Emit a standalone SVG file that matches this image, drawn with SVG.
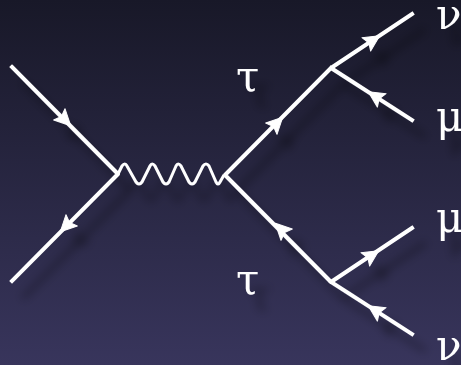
<svg xmlns="http://www.w3.org/2000/svg" width="461" height="365" viewBox="0 0 461 365">
<style>
.l{fill:none;stroke:#fff;stroke-width:4;stroke-linecap:square;stroke-linejoin:round}
.w{fill:none;stroke:#fff;stroke-width:3;stroke-linejoin:round}
.a{fill:#fff;stroke:#fff;stroke-width:1;stroke-linejoin:round}
.t{font-family:"DejaVu Serif",serif;font-size:42px;fill:#fff}
</style>
<defs>
<linearGradient id="bg" x1="0" y1="0" x2="0" y2="1"><stop offset="0" stop-color="#181828"/><stop offset="1" stop-color="#38355c"/></linearGradient>
<filter id="s" x="-20%" y="-20%" width="140%" height="140%"><feDropShadow dx="12" dy="16" stdDeviation="5" flood-color="#000" flood-opacity="0.38"/></filter>
<path id="h" d="M8 0L-8 -8L-5 0L-8 8Z"/>
</defs>
<rect width="461" height="365" fill="url(#bg)"/>
<g id="connectors" filter="url(#s)">
<path class="l" d="M12 67L118 174L12 281"/>
<path class="w" d="M118 174L122 166Q125 162 127 166L136 182Q139 186 142 182L150 166Q152 162 155 166L163 182Q166 186 169 182L176 166Q178 162 181 166L189 182Q192 186 195 182L203 166Q206 162 209 166L216 182Q218 186 220 182L224 175"/>
<path class="l" d="M412 14L331 68L225 175L331 282L412 228M412 120L331 68M331 282L412 334"/>
<use href="#h" class="a" transform="translate(65 120) rotate(45)"/>
<use href="#h" class="a" transform="translate(66 226) rotate(135)"/>
<use href="#h" class="a" transform="translate(277 123) rotate(-45)"/>
<use href="#h" class="a" transform="translate(281 229) rotate(-135)"/>
<use href="#h" class="a" transform="translate(373 40) rotate(-33)"/>
<use href="#h" class="a" transform="translate(375 96) rotate(-147)"/>
<use href="#h" class="a" transform="translate(372 255) rotate(-33)"/>
<use href="#h" class="a" transform="translate(375 310) rotate(-147)"/>
</g>
<g id="labels" filter="url(#s)">
<text class="t" x="236" y="91">τ</text>
<text class="t" x="236" y="294">τ</text>
<text class="t" x="436" y="29">ν</text>
<text class="t" x="436" y="131">μ</text>
<text class="t" x="436" y="232">μ</text>
<text class="t" x="436" y="360">ν</text>
</g>
</svg>
